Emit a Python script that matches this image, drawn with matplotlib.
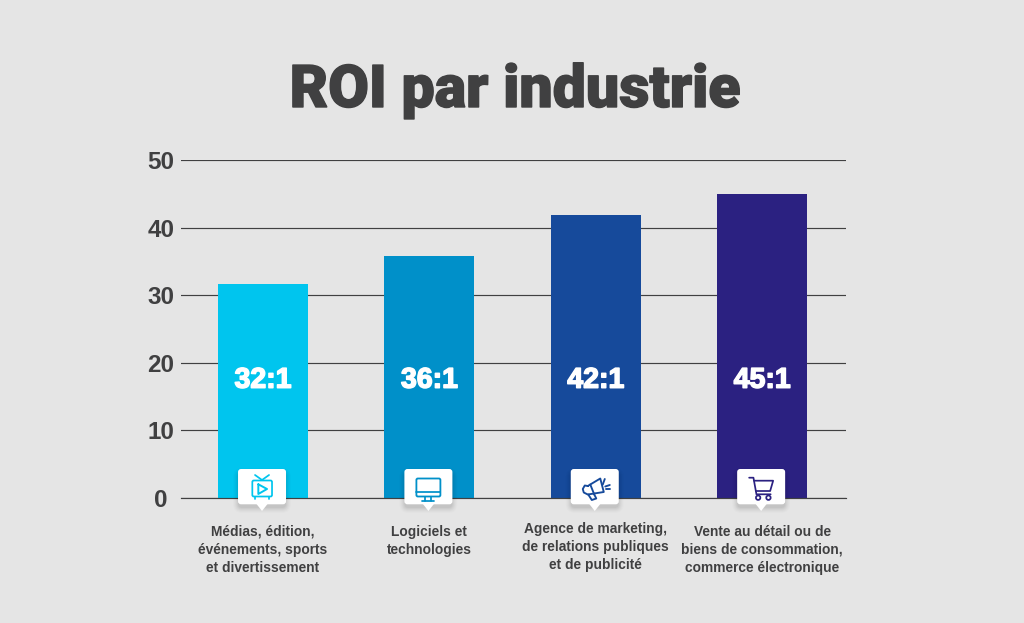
import matplotlib
matplotlib.use('Agg')
import matplotlib.pyplot as plt
import matplotlib.patheffects as pe
from matplotlib.patches import FancyBboxPatch, Polygon, Circle

# ROI per industry
categories = ['Médias, édition,\névénements, sports\net divertissement',
              'Logiciels et\ntechnologies',
              'Agence de marketing,\nde relations publiques\net de publicité',
              'Vente au détail ou de\nbiens de consommation,\ncommerce électronique']
roi_values = [31.7, 35.8, 41.8, 44.9]
roi_labels = ['32:1', '36:1', '42:1', '45:1']
yticks = [0, 10, 20, 30, 40, 50]
bar_colors = ['#00c5ee', '#0090c9', '#164a9b', '#2b2181']

W, H = 1024, 623
BG = '#e5e5e5'
DARK = '#404041'
FONT = 'Liberation Sans'

fig = plt.figure(figsize=(W/100, H/100), dpi=100, facecolor=BG)

# ------------------------------------------------------
# main axes, 0 at y=498 and 50 at y=160
ax = fig.add_axes([181/W, 1 - 498/H, (846-181)/W, (498-160)/H], facecolor='none')
xpos = list(range(len(categories)))
ax.bar(xpos, roi_values, width=0.541, color=bar_colors, zorder=2)
ax.set_xlim(-0.493, 3.504)
ax.set_ylim(0, 50)
ax.set_yticks(yticks)
ax.grid(axis='y', color=DARK, lw=0.85, zorder=1)
ax.set_axisbelow(True)
for s in ['top', 'right', 'left']:
    ax.spines[s].set_visible(False)
ax.spines['bottom'].set_color(DARK)
ax.spines['bottom'].set_linewidth(0.85)
# y labels are centred on x=161 in the reference, not right aligned
ax.tick_params(axis='y', length=0, pad=14.4, labelsize=17.5, labelcolor=DARK)
for t in ax.get_yticklabels():
    t.set_fontfamily(FONT)
    t.set_fontweight('bold')
    t.set_horizontalalignment('center')

ax.set_xticks(xpos, categories)
ax.tick_params(axis='x', length=0, pad=19.4)
for t in ax.get_xticklabels():
    t.set_fontfamily(FONT)
    t.set_fontweight('bold')
    t.set_fontsize(9.9)
    t.set_color(DARK)
    t.set_linespacing(1.36)
ax.xaxis.get_major_ticks()[2].set_pad(17.4)

for x, lab in zip(xpos, roi_labels):
    ax.text(x, 17.35, lab, color='white', ha='center', va='center', fontsize=20.5,
            family=FONT, weight='bold', zorder=3,
            path_effects=[pe.withStroke(linewidth=1.1, foreground='white')])

fig.text(515/W, 1 - 91/H, 'ROI par industrie', color=DARK, ha='center', va='center',
         fontsize=42.5, family='Roboto', weight=900,
         path_effects=[pe.withStroke(linewidth=1.0, foreground=DARK)])

# ------------------------------------------------------
# overlay in pixel coordinates for the callouts and icons
ov = fig.add_axes([0, 0, 1, 1], facecolor='none', zorder=5)
ov.set_xlim(0, W)
ov.set_ylim(H, 0)
ov.axis('off')


def callout(cx):
    for grow, alpha in [(6, 0.012), (5, 0.015), (4, 0.02), (3, 0.025), (2, 0.03), (1, 0.035)]:
        ov.add_patch(FancyBboxPatch((cx-23-grow, 474-grow), 46+2*grow, 33+2*grow,
                                    boxstyle='round,pad=0,rounding_size=%f' % (3+grow),
                                    fc='black', ec='none', alpha=alpha))
    ov.add_patch(FancyBboxPatch((cx-24, 469), 48, 35.3, boxstyle='round,pad=0,rounding_size=3',
                                fc='white', ec='none'))
    ov.add_patch(Polygon([(cx-5.5, 504), (cx+5.5, 504), (cx, 511)], fc='white', ec='none'))


def line(cx, pts, c, lw=1.25):
    # pts are offsets from the callout centre, y in pixels
    ov.plot([cx + p[0] for p in pts], [p[1] for p in pts], color=c, lw=lw,
            solid_capstyle='round', solid_joinstyle='round')


def tv_icon(cx, c):
    ov.add_patch(FancyBboxPatch((cx-9.7, 480.5), 19.7, 16, boxstyle='round,pad=0,rounding_size=1.5',
                                fc='none', ec=c, lw=1.25))
    line(cx, [(-7, 475), (0, 480), (7, 475)], c)
    line(cx, [(-3.7, 484.3), (5, 489), (-3.7, 494), (-3.7, 484.3)], c, 1.4)
    line(cx, [(-7, 497), (-7, 498.5)], c)
    line(cx, [(7, 497), (7, 498.5)], c)


def monitor_icon(cx, c):
    ov.add_patch(FancyBboxPatch((cx-12, 478.5), 24, 18, boxstyle='round,pad=0,rounding_size=1.5',
                                fc='none', ec=c, lw=1.3))
    line(cx, [(-12, 491.7), (12, 491.7)], c)
    line(cx, [(0, 493.5), (0, 494)], c)
    line(cx, [(-3, 497), (-3, 500.5)], c)
    line(cx, [(3, 497), (3, 500.5)], c)
    line(cx, [(-6, 501), (6, 501)], c)


def megaphone_icon(cx, c):
    # cone outline with a rounded back
    line(cx, [(-7, 486), (5.5, 478.5), (9, 492), (-7, 494.5), (-11, 492.5), (-12, 489), (-10, 485.5), (-7, 486)], c, 1.35)
    line(cx, [(-4.5, 484.5), (-0.5, 494.5)], c, 1.35)
    line(cx, [(-6.5, 494.5), (-3, 500), (1.5, 498.5), (-1, 493.5)], c, 1.35)
    line(cx, [(8, 484.5), (10, 479)], c, 1.35)
    line(cx, [(10.5, 486.5), (15, 485)], c, 1.35)
    line(cx, [(11, 489), (15, 489)], c, 1.35)


def cart_icon(cx, c):
    line(cx, [(-12, 477.7), (-7.7, 477.7), (-4.7, 494.3), (9.5, 494.3)], c)
    line(cx, [(-7, 480.7), (12, 480.7), (9, 491), (-5.3, 491)], c)
    ov.add_patch(Circle((cx-3, 497.7), 2.2, fc='white', ec=c, lw=1.25))
    ov.add_patch(Circle((cx+7.3, 497.7), 2.2, fc='white', ec=c, lw=1.25))


icons = [tv_icon, monitor_icon, megaphone_icon, cart_icon]
for x, color, icon in zip(xpos, bar_colors, icons):
    cx = ax.transData.transform((x, 0))[0] - 1
    callout(cx)
    icon(cx, color)

fig.savefig('out.png', dpi=100, facecolor=BG)
